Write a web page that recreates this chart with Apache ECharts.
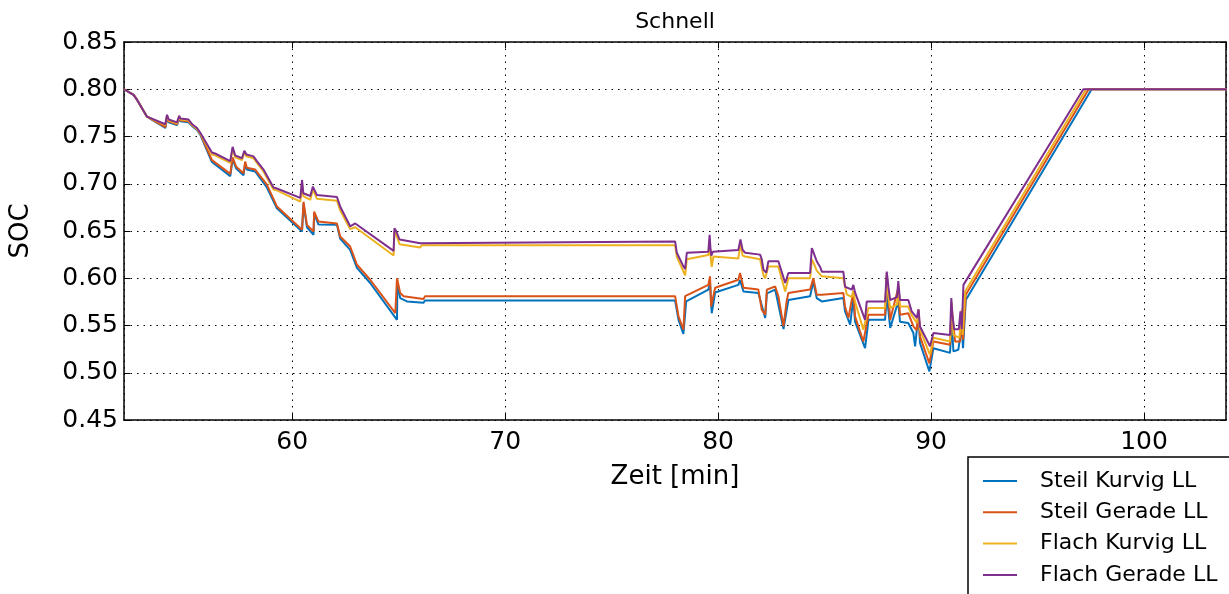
<!DOCTYPE html>
<html>
<head>
<meta charset="utf-8">
<script src="https://cdn.jsdelivr.net/npm/echarts@6/dist/echarts.min.js"></script>
<style>
html,body{margin:0;padding:0;background:#fff;}
#chart{width:1229px;height:594px;}
</style>
</head>
<body>
<div id="chart"></div>
<script>
const titleText = 'Schnell';
const xName = 'Zeit [min]';
const yName = 'SOC';
const seriesNames = ['Steil Kurvig LL', 'Steil Gerade LL', 'Flach Kurvig LL', 'Flach Gerade LL'];
const seriesColors = ['#0072BD', '#D95319', '#EDB120', '#7E2F8E'];

const steilKurvig = [[52.1,0.800],[52.55,0.794],[52.71,0.789],[53.18,0.771],[54.04,0.759],[54.12,0.769],[54.2,0.765],[54.59,0.762],[54.69,0.769],[54.75,0.766],[55.13,0.765],[55.3,0.761],[55.53,0.757],[55.68,0.752],[56.23,0.723],[57.09,0.708],[57.20,0.726],[57.37,0.716],[57.71,0.709],[57.79,0.721],[57.87,0.715],[58.26,0.713],[58.81,0.696],[59.28,0.674],[60.46,0.6495],[60.53,0.679],[60.69,0.654],[61.0,0.646],[61.03,0.668],[61.23,0.657],[62.10,0.6565],[62.25,0.642],[62.72,0.630],[63.04,0.611],[63.66,0.595],[64.92,0.556],[64.94,0.595],[65.07,0.579],[65.39,0.5755],[66.16,0.574],[66.24,0.5765],[77.98,0.5765],[78.14,0.556],[78.37,0.541],[78.50,0.5755],[79.54,0.588],[79.62,0.595],[79.70,0.563],[79.86,0.585],[80.95,0.593],[81.03,0.598],[81.19,0.586],[81.89,0.5844],[82.21,0.558],[82.29,0.584],[82.68,0.588],[83.07,0.5463],[83.30,0.577],[84.32,0.581],[84.47,0.5966],[84.63,0.579],[84.87,0.5755],[85.88,0.579],[85.96,0.565],[86.20,0.5508],[86.35,0.579],[86.43,0.554],[86.90,0.526],[87.06,0.556],[87.84,0.556],[87.92,0.5826],[88.08,0.5474],[88.46,0.5755],[88.54,0.554],[88.93,0.5526],[89.17,0.542],[89.25,0.528],[89.41,0.563],[89.48,0.5315],[89.92,0.5015],[90.11,0.526],[90.89,0.521],[90.97,0.5526],[91.05,0.5226],[91.28,0.5244],[91.44,0.549],[91.50,0.526],[91.63,0.577],[97.54,0.800],[103.9,0.800]];

const steilGerade = [[52.1,0.800],[52.55,0.794],[52.71,0.789],[53.18,0.771],[54.04,0.760],[54.12,0.770],[54.2,0.766],[54.59,0.763],[54.69,0.770],[54.75,0.767],[55.13,0.766],[55.3,0.762],[55.53,0.758],[55.68,0.753],[56.23,0.725],[57.09,0.7105],[57.20,0.728],[57.37,0.718],[57.71,0.711],[57.79,0.7235],[57.87,0.717],[58.26,0.715],[58.81,0.699],[59.28,0.676],[60.46,0.6513],[60.53,0.681],[60.69,0.6565],[61.0,0.6495],[61.03,0.6706],[61.23,0.660],[62.10,0.658],[62.25,0.6442],[62.72,0.6336],[63.04,0.6143],[63.66,0.5984],[64.84,0.5632],[64.92,0.600],[65.07,0.5844],[65.23,0.581],[66.16,0.578],[66.24,0.581],[77.98,0.581],[78.14,0.5596],[78.37,0.5456],[78.45,0.581],[79.54,0.593],[79.62,0.602],[79.67,0.570],[79.86,0.590],[80.95,0.5984],[81.03,0.6055],[81.19,0.590],[81.89,0.588],[82.05,0.5667],[82.21,0.5614],[82.29,0.588],[82.68,0.5913],[82.83,0.581],[83.07,0.549],[83.22,0.576],[83.30,0.5844],[84.32,0.588],[84.47,0.600],[84.63,0.5826],[84.87,0.5826],[85.88,0.5844],[85.96,0.5702],[86.12,0.558],[86.35,0.586],[86.43,0.5596],[86.82,0.533],[87.06,0.5614],[87.84,0.5614],[87.92,0.6055],[88.08,0.556],[88.46,0.590],[88.54,0.5614],[88.93,0.563],[89.17,0.549],[89.33,0.545],[89.41,0.567],[89.48,0.5385],[89.92,0.510],[90.11,0.533],[90.89,0.5297],[90.97,0.567],[91.13,0.533],[91.36,0.533],[91.44,0.558],[91.50,0.535],[91.63,0.5826],[97.40,0.800],[103.9,0.800]];

const flachKurvig = [[52.1,0.800],[52.55,0.794],[52.71,0.789],[53.18,0.771],[54.04,0.762],[54.12,0.772],[54.2,0.767],[54.59,0.764],[54.69,0.771],[54.75,0.768],[55.13,0.767],[55.3,0.762],[55.53,0.758],[55.68,0.753],[56.23,0.731],[56.38,0.730],[57.09,0.722],[57.2,0.737],[57.32,0.728],[57.64,0.725],[57.75,0.733],[57.85,0.729],[58.18,0.727],[58.34,0.722],[58.65,0.713],[59.12,0.694],[59.28,0.693],[60.38,0.681],[60.46,0.701],[60.52,0.687],[60.85,0.683],[60.97,0.694],[61.16,0.684],[62.10,0.682],[62.25,0.672],[62.72,0.652],[62.96,0.654],[64.76,0.624],[64.80,0.650],[64.88,0.646],[65.04,0.636],[66.01,0.6326],[66.09,0.635],[77.98,0.635],[78.06,0.623],[78.45,0.603],[78.53,0.620],[79.54,0.6245],[79.60,0.640],[79.64,0.625],[79.70,0.612],[79.78,0.623],[80.95,0.621],[81.05,0.637],[81.15,0.624],[81.27,0.623],[81.97,0.620],[82.13,0.603],[82.21,0.600],[82.36,0.6125],[82.83,0.6125],[83.15,0.586],[83.30,0.600],[84.32,0.600],[84.40,0.620],[84.47,0.617],[84.63,0.608],[84.87,0.602],[85.88,0.600],[86.04,0.583],[86.28,0.580],[86.35,0.587],[86.43,0.575],[86.82,0.5456],[86.90,0.546],[87.06,0.5685],[87.84,0.5685],[87.92,0.598],[88.0,0.580],[88.08,0.5685],[88.40,0.572],[88.46,0.593],[88.54,0.570],[88.93,0.570],[89.09,0.561],[89.33,0.5526],[89.41,0.562],[89.48,0.5456],[89.95,0.519],[90.11,0.537],[90.89,0.533],[90.97,0.574],[91.05,0.540],[91.33,0.537],[91.44,0.567],[91.48,0.540],[91.60,0.586],[97.28,0.800],[103.9,0.800]];

const flachGerade = [[52.1,0.800],[52.55,0.794],[52.71,0.789],[53.18,0.771],[54.04,0.763],[54.12,0.773],[54.2,0.768],[54.59,0.765],[54.69,0.772],[54.75,0.769],[55.13,0.768],[55.3,0.763],[55.53,0.759],[55.68,0.754],[56.23,0.733],[56.38,0.732],[57.09,0.724],[57.2,0.739],[57.32,0.730],[57.64,0.727],[57.75,0.735],[57.85,0.731],[58.18,0.729],[58.34,0.724],[58.65,0.715],[59.12,0.696],[59.28,0.695],[60.38,0.685],[60.46,0.704],[60.52,0.690],[60.85,0.687],[60.97,0.697],[61.16,0.688],[62.10,0.686],[62.25,0.676],[62.72,0.655],[62.96,0.658],[64.76,0.629],[64.80,0.653],[64.88,0.650],[65.04,0.641],[66.01,0.637],[66.09,0.639],[77.98,0.639],[78.06,0.627],[78.37,0.6125],[78.45,0.610],[78.53,0.627],[79.54,0.628],[79.60,0.646],[79.64,0.632],[79.68,0.624],[79.75,0.628],[80.95,0.630],[81.05,0.641],[81.15,0.630],[81.27,0.627],[81.97,0.625],[82.05,0.620],[82.13,0.609],[82.26,0.606],[82.36,0.618],[82.83,0.618],[83.15,0.595],[83.30,0.6055],[84.32,0.6055],[84.40,0.632],[84.47,0.628],[84.63,0.618],[84.79,0.612],[84.87,0.607],[85.88,0.607],[85.96,0.591],[86.28,0.588],[86.35,0.593],[86.43,0.585],[86.90,0.556],[86.98,0.5755],[87.84,0.5755],[87.92,0.607],[88.0,0.590],[88.08,0.577],[88.40,0.580],[88.46,0.597],[88.54,0.577],[88.93,0.577],[89.09,0.565],[89.33,0.558],[89.41,0.567],[89.48,0.549],[89.95,0.528],[90.11,0.542],[90.89,0.540],[90.95,0.579],[91.0,0.562],[91.08,0.546],[91.30,0.546],[91.38,0.565],[91.44,0.546],[91.52,0.593],[97.15,0.800],[103.9,0.800]];

const seriesData = [steilKurvig, steilGerade, flachKurvig, flachGerade];
const xMin = 52.1, xMax = 103.85;
const yMin = 0.45, yMax = 0.85, yStep = 0.05;

const font = 'DejaVu Sans';
const chart = echarts.init(document.getElementById('chart'), null, {renderer: 'canvas'});

const gridLine = {show: true, lineStyle: {color: '#000', width: 1, type: [1.5, 5]}};
const option = {
  animation: false,
  backgroundColor: '#fff',
  graphic: [{
    type: 'text', x: 675, y: 22, z: 10,
    style: {text: titleText, font: '22px "DejaVu Sans"', fill: '#000', textAlign: 'center', textVerticalAlign: 'middle'}
  }, {
    type: 'rect', z: 0,
    shape: {x: 968, y: 457, width: 320, height: 200},
    style: {fill: '#fff', stroke: '#000', lineWidth: 1.5}
  }],
  grid: {left: 124, right: 3, top: 42, bottom: 174, containLabel: false},
  legend: {
    data: seriesNames,
    orient: 'vertical',
    left: 983, top: 470,
    itemWidth: 34, itemHeight: 14, itemGap: 9.3,
    padding: 0,
    z: 20,
    textStyle: {fontFamily: font, fontSize: 22, lineHeight: 22, color: '#000', padding: [0, 0, 0, 18]},
    icon: 'path://M0,6 L34,6 L34,8 L0,8 Z'
  },
  xAxis: [{
    type: 'value', min: xMin, max: xMax, position: 'bottom',
    name: xName, nameLocation: 'middle', nameGap: 44,
    nameTextStyle: {fontFamily: font, fontSize: 26, color: '#000'},
    axisLine: {show: true, lineStyle: {color: '#000', width: 1.5}},
    axisTick: {show: true, inside: true, length: 6, lineStyle: {color: '#000', width: 1}},
    axisLabel: {fontFamily: font, fontSize: 25, color: '#000', margin: 10, showMinLabel: false, showMaxLabel: false,
      formatter: v => (Math.abs(v % 10) < 1e-6 ? String(v) : '')},
    splitLine: gridLine
  }, {
    type: 'value', min: xMin, max: xMax, position: 'top',
    axisLine: {show: true, lineStyle: {color: '#000', width: 1.5}},
    axisTick: {show: true, inside: true, length: 6, lineStyle: {color: '#000', width: 1}},
    axisLabel: {show: false}, splitLine: {show: false}
  }],
  yAxis: [{
    type: 'value', min: yMin, max: yMax, interval: yStep, position: 'left',
    name: yName, nameLocation: 'middle', nameGap: 90, nameRotate: 90,
    nameTextStyle: {fontFamily: font, fontSize: 26, color: '#000'},
    axisLine: {show: true, lineStyle: {color: '#000', width: 1.5}},
    axisTick: {show: true, inside: true, length: 6, lineStyle: {color: '#000', width: 1}},
    axisLabel: {fontFamily: font, fontSize: 25, color: '#000', margin: 6, formatter: v => v.toFixed(2)},
    splitLine: gridLine
  }, {
    type: 'value', min: yMin, max: yMax, interval: yStep, position: 'right',
    axisLine: {show: true, lineStyle: {color: '#000', width: 1.5}},
    axisTick: {show: true, inside: true, length: 6, lineStyle: {color: '#000', width: 1}},
    axisLabel: {show: false}, splitLine: {show: false}
  }],
  series: seriesNames.map((n, i) => ({
    name: n, type: 'line', data: seriesData[i],
    xAxisIndex: 0, yAxisIndex: 0,
    symbol: 'none', showSymbol: false,
    color: seriesColors[i],
    itemStyle: {color: seriesColors[i]},
    lineStyle: {color: seriesColors[i], width: 2},
    clip: true, z: 2 + i
  }))
};
chart.setOption(option);
</script>
</body>
</html>
